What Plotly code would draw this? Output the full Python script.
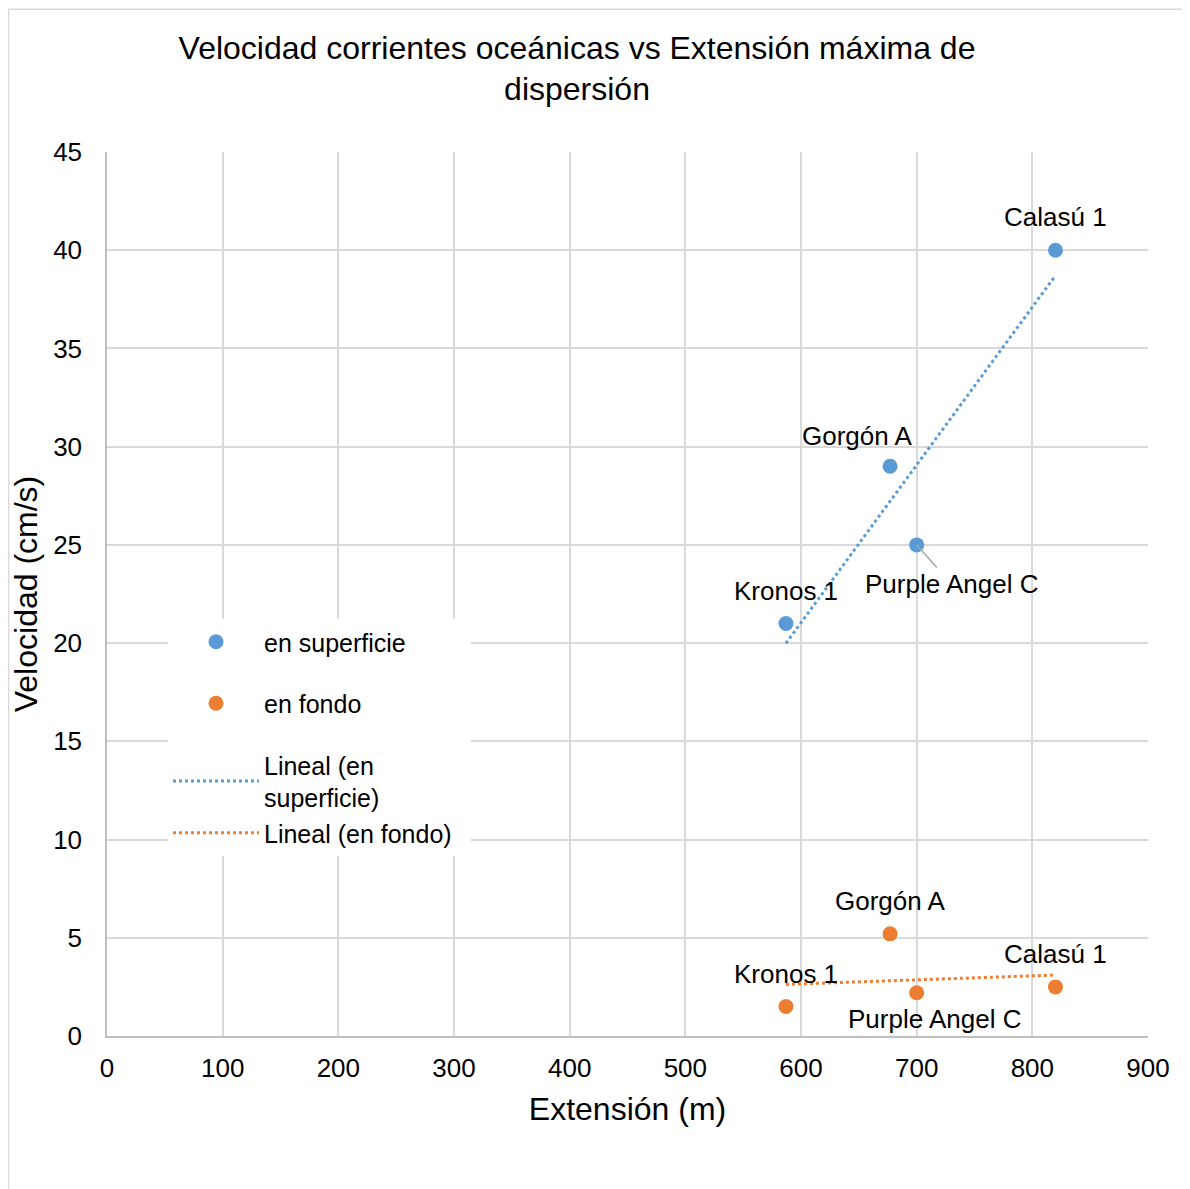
import numpy as np
import plotly.graph_objects as go

# Data
sites = ["Kronos 1", "Gorgón A", "Purple Angel C", "Calasú 1"]
ext_m = [587, 677, 700, 820]
vel_sup = [21, 29, 25, 40]
vel_fondo = [1.5, 5.2, 2.2, 2.5]

x_ticks = list(range(0, 901, 100))
y_ticks = list(range(0, 46, 5))

BLUE = "#5B9BD5"
ORANGE = "#ED7D31"
FONT = "Liberation Sans, Arial, sans-serif"
LBL = 26

fig = go.Figure()

fig.add_trace(go.Scatter(x=ext_m, y=vel_sup, mode="markers", name="en superficie",
                         marker=dict(color=BLUE, size=15), legendgroup="g1"))
fig.add_trace(go.Scatter(x=ext_m, y=vel_fondo, mode="markers", name="en fondo",
                         marker=dict(color=ORANGE, size=15), legendgroup="g2"))

xr = np.array([min(ext_m), max(ext_m)])
ps = np.polyfit(ext_m, vel_sup, 1)
pf = np.polyfit(ext_m, vel_fondo, 1)
fig.add_trace(go.Scatter(x=xr, y=np.polyval(ps, xr), mode="lines", name="Lineal (en<br>superficie)",
                         line=dict(color=BLUE, width=3, dash="dot"), legendgroup="g3"))
fig.add_trace(go.Scatter(x=xr, y=np.polyval(pf, xr), mode="lines", name="Lineal (en fondo)  ",
                         line=dict(color=ORANGE, width=3, dash="dot"), legendgroup="g3"))

# data labels (offsets in px)
sup_off = {"Kronos 1": (0, 32), "Gorgón A": (-33, 30), "Calasú 1": (0, 33)}
fondo_off = {"Kronos 1": (0, 33), "Gorgón A": (0, 33), "Purple Angel C": (18, -26), "Calasú 1": (0, 33)}
for s, x, y in zip(sites, ext_m, vel_sup):
    if s in sup_off:
        dx, dy = sup_off[s]
        fig.add_annotation(x=x, y=y, text=s, showarrow=False, xshift=dx, yshift=dy,
                           font=dict(size=LBL, color="black", family=FONT))
    else:
        fig.add_annotation(x=x, y=y, text=s, showarrow=True, ax=35, ay=39, arrowhead=0,
                           arrowwidth=1.5, arrowcolor="#A6A6A6", standoff=0,
                           font=dict(size=LBL, color="black", family=FONT))
for s, x, y in zip(sites, ext_m, vel_fondo):
    dx, dy = fondo_off[s]
    fig.add_annotation(x=x, y=y, text=s, showarrow=False, xshift=dx, yshift=dy,
                       font=dict(size=LBL, color="black", family=FONT))

# outer chart border
fig.add_shape(type="rect", xref="paper", yref="paper", x0=-0.0945, x1=1.0375, y0=-0.2, y1=1.1615,
              line=dict(color="#D9D9D9", width=1.5), fillcolor="rgba(0,0,0,0)", layer="below")

fig.update_layout(
    width=1182, height=1181,
    margin=dict(l=99, r=42, t=144, b=153),
    paper_bgcolor="white", plot_bgcolor="white",
    font=dict(family=FONT, color="black", size=26),
    title=dict(text="Velocidad corrientes oceánicas vs Extensión máxima de<br>dispersión",
               x=0.4814, xanchor="center", y=0.957, yanchor="middle",
               font=dict(size=32, color="black", family=FONT)),
    showlegend=True,
    legend=dict(x=0.0586, y=0.4717, xanchor="left", yanchor="top", bgcolor="white",
                font=dict(size=25, color="black", family=FONT), tracegroupgap=26,
                itemwidth=86),
    xaxis=dict(range=[0, 900], tickvals=x_ticks, showgrid=True, gridcolor="#D9D9D9", gridwidth=1.5,
               zeroline=False, showline=True, linecolor="#BFBFBF", linewidth=1.5,
               ticks="", tickfont=dict(size=26), ticklabelstandoff=8,
               title=dict(text="Extensión (m)", font=dict(size=32), standoff=16)),
    yaxis=dict(range=[0, 45], tickvals=y_ticks, showgrid=True, gridcolor="#D9D9D9", gridwidth=1.5,
               zeroline=False, showline=True, linecolor="#BFBFBF", linewidth=1.5,
               ticks="", tickfont=dict(size=26), ticklabelstandoff=18,
               title=dict(text="Velocidad (cm/s)", font=dict(size=32), standoff=8)),
)

fig.write_html("out.html")
